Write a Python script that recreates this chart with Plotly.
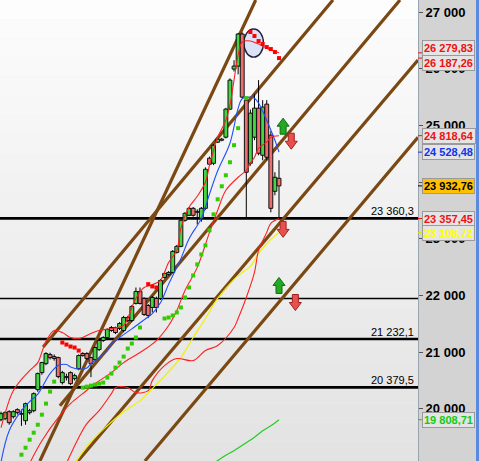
import plotly.graph_objects as go
import numpy as np

# ---------------- data ----------------
idx = list(range(69))
opens = [19809,19827,19950,19862,19986,19915,19791,19933,19968,20339,20639,20798,20957,20922,20904,20463,20569,20639,20533,20710,
         20975,20975,20904,20869,21046,21205,21258,21435,21435,21417,21382,21611,21558,21859,22071,21947,21823,21788,21947,21947,
         22318,22371,22406,22760,22866,23325,23414,23537,23484,23361,23537,24421,24332,24704,24757,24792,25287,25993,26046,26612,
         25446,24332,24792,25304,24474,25375,24827,23838,24067]
highs = [19950,19960,19975,19975,20010,19990,20110,20000,20290,20640,20830,21000,20990,20960,20920,20670,20620,20660,20620,20960,
         21000,21000,20920,21100,21220,21280,21420,21460,21450,21530,21640,21640,21830,22140,22140,21970,21850,21990,21980,22290,
         22420,22430,22800,22890,23340,23470,23560,23560,23520,23560,24260,24450,24670,24790,24780,25310,25830,26150,26630,26640,
         25499,25280,25550,25799,25446,25446,24900,24173,24385]
lows = [19780,19800,19720,19830,19900,19700,19720,19900,19940,20300,20600,20770,20870,20850,20540,20430,20500,20420,20500,20680,
        20920,20860,20560,20840,21020,21180,21240,21360,21320,21390,21350,21530,21530,21840,21840,21640,21600,21700,21700,21920,
        22300,22350,22390,22740,22850,23300,23400,23390,23250,23300,23510,24290,24300,24690,24720,24770,25270,25950,25900,25480,
        23378,24290,24740,24474,24385,24385,23467,23767,23378]
closes = [19915,19933,19756,19950,19933,19905,20092,19968,20268,20622,20816,20975,20904,20887,20569,20639,20551,20445,20586,20940,
          20940,20887,20798,21081,21205,21258,21399,21382,21346,21505,21611,21558,21806,22071,21859,21664,21647,21965,21788,22265,
          22389,22406,22777,22866,23325,23449,23537,23414,23467,23537,24226,24315,24651,24757,24739,25287,25799,26046,26612,25499,
          24173,25216,25304,24509,25322,24438,23537,24085,23932.76]

# parabolic SAR dots
sar_up_x = [5,6,7,8,9,10,11,12,13,
            20,21,22,23,24,25,26,27,28,29,30,31,32,33,34,
            40,41,42,43,44,45,46,47,48,49,50,51,52,53,54,55,56,57,58,60]
sar_up_y = [19191,19314,19456,19579,19720,19897,20092,20304,20480,
            20374,20392,20410,20427,20445,20463,20551,20622,20728,20816,20922,21064,21152,21258,21435,
            21594,21611,21647,21700,21788,21965,22141,22353,22548,22724,22884,23149,23431,23696,23926,24120,
            24350,24651,24951,25481]
sar_dn_x = [15,16,17,18,19, 36,37,38, 61,62,63,64,65,66,67,68]
sar_dn_y = [21170,21134,21099,21081,21028, 22200,22159,22141,
            26647,26577,26488,26435,26382,26347,26294,26187.26]

# indicator lines
blue_x = [0,2,5,7,9,12,14,16,17,19,21,22,24,26,27,29,32,35,37,39,41,44,46,49,51,53,56,58,59,61,62,63,64,66,67,68]
blue_y = [19060,19615,19968,20127,20260,20622,20763,20781,20740,20700,20720,20800,20900,21028,21140,21258,21410,21570,
          21680,21870,22200,22650,23000,23360,23790,24200,24686,25300,25470,25499,25480,25393,25250,24920,24739,24528.48]
redA_x = [0,2,3,5,7,9,10,11,13,15,17,19,22,24,27,30,31,33,35,37,39,41,43,44,46,48,50,51,52,53,55,56,57,58,59,61,63,66,68]
redA_y = [19668,20150,20321,20520,20675,20816,21000,21190,21382,21346,21258,21240,21329,21382,21417,21470,21600,21950,
          22140,22190,22265,22583,22795,23184,23555,23749,23997,24297,24562,24792,25092,25357,25799,26241,26471,26488,
          26435,26329,26279.83]
redB_x = [7,10,14,17,20,23,27,30,34,38,41,43,45,48,51,53,55,58,60,61,62,63,65,66,68]
redB_y = [19040,19438,19844,20092,20268,20445,20639,20816,20993,21205,21470,21735,22088,22495,23113,23502,23855,24085,
          24209,24332,24438,24597,24704,24792,24818.64]
redC_x = [16,19,21,24,27,28,31,33,36,37,40,43,47,50,53,57,58,60,62,63,65,66,68]
redC_y = [19040,19491,19738,19968,20268,20374,20374,20286,20321,20498,20763,20887,20851,21028,21117,21435,21594,21965,
          22406,22795,23113,23272,23357.45]
yellow_x = [18,22,26,30,34,37,41,44,47,50,53,57,59,61,63,66,68]
yellow_y = [19031,19420,19703,19950,20145,20357,20657,20904,21258,21594,21947,22283,22406,22512,22742,22990,23108.72]
green_x = [52,55,57,60,62,64,66,68]
green_y = [19040,19180,19261,19403,19500,19615,19700,19808.71]

# hand-drawn trend lines: (x0, y0, x1, y1)
trend_lines = [
    (9.5, 19080, 62.3, 27212),
    (10.3, 21090, 81.2, 27212),
    (14.4, 20056, 97.6, 27212),
    (18.8, 19080, 102.0, 26155),
    (35.2, 19080, 102.0, 24792),
]
# horizontal levels
levels = [23360.3, 21947, 21232.1, 20379.5]
level_labels = ["23 360,3", "", "21 232,1", "20 379,5"]
level_widths = [2.6, 1.4, 2.6, 2.6]

# signal arrows (x, price, direction)
arrows = [(69, 24986, "up"), (71, 24721, "down"), (69, 23166, "down"), (68, 22177, "up"), (72, 21876, "down")]

# right-axis value tags
tags = [(26279.83, "26 279,83", "#ee1111", "#e4e4e4"),
        (26187.26, "26 187,26", "#ee1111", "#e4e4e4"),
        (24818.64, "24 818,64", "#ee1111", "#e4e4e4"),
        (24528.48, "24 528,48", "#1133ee", "#e4e4e4"),
        (23932.76, "23 932,76", "#000000", "#ffc000"),
        (23357.45, "23 357,45", "#ee1111", "#e4e4e4"),
        (23108.72, "23 108,72", "#ffff00", "#e4e4e4"),
        (19808.71, "19 808,71", "#11cc11", "#e4e4e4")]
tag_shift = [5, -5, 0, 0, 0, 0, 0, 0]

tick_vals = [20000, 21000, 22000, 23000, 24000, 25000, 26000, 27000]
tick_text = ["20 000", "21 000", "22 000", "23 000", "24 000", "25 000", "26 000", "27 000"]

XR = [-0.25, 102.0]
YR = [19080, 27212]

# ---------------- figure ----------------
fig = go.Figure()
shapes = []

# background gradient of the plot area
nb = 24
for k in range(nb):
    g = int(253 - (253 - 227) * k / (nb - 1))
    shapes.append(dict(type="rect", xref="x domain", yref="y domain", x0=0, x1=1,
                       y0=1 - (k + 1) / nb, y1=1 - k / nb, fillcolor=f"rgb({g},{g},{g})",
                       line=dict(width=0), layer="below"))

# peak ellipse
shapes.append(dict(type="circle", xref="x", yref="y", x0=59.4, x1=64.2, y0=26205, y1=26700,
                   fillcolor="rgba(205,218,245,0.75)", line=dict(color="#202040", width=1.4), layer="below"))

# horizontal levels (under the candles)
for lv, w in zip(levels, level_widths):
    shapes.append(dict(type="line", xref="x", yref="y", x0=XR[0], x1=XR[1], y0=lv, y1=lv,
                       line=dict(color="black", width=w), layer="below"))

# trend lines (under the candles)
for (x0, y0, x1, y1) in trend_lines:
    shapes.append(dict(type="line", xref="x", yref="y", x0=x0, x1=x1, y0=y0, y1=y1,
                       line=dict(color="#7a4812", width=3.2), layer="below"))

# candles: bodies (bar layer) + wicks outside the bodies
o = np.array(opens, float); c = np.array(closes, float)
h = np.array(highs, float); l = np.array(lows, float)
base = np.minimum(o, c)
top = np.maximum(o, c)
hgt = np.maximum(top - base, 12)
cols = ["#44d444" if c[i] >= o[i] else "#ec6e6e" for i in idx]
fig.add_trace(go.Bar(x=idx, y=hgt, base=base, width=0.95, marker=dict(color=cols, line=dict(color="#111111", width=1)),
                     showlegend=False, hoverinfo="skip"))
wx, wy = [], []
for i in idx:
    wx += [i, i, None, i, i, None]
    wy += [l[i], base[i], None, base[i] + hgt[i], h[i], None]
fig.add_trace(go.Scatter(x=wx, y=wy, mode="lines", line=dict(color="black", width=1),
                         hoverinfo="skip", showlegend=False))

# yellow / green long averages
fig.add_trace(go.Scatter(x=yellow_x, y=yellow_y, mode="lines", line=dict(color="#f0f000", width=1.2),
                         line_shape="spline", showlegend=False))
fig.add_trace(go.Scatter(x=green_x, y=green_y, mode="lines", line=dict(color="#22cc22", width=1.2),
                         line_shape="spline", showlegend=False))

# indicator lines
for xs, ys, col in [(redC_x, redC_y, "#ff2020"), (redB_x, redB_y, "#ff2020"),
                    (blue_x, blue_y, "#2050ff"), (redA_x, redA_y, "#ff2020")]:
    fig.add_trace(go.Scatter(x=xs, y=ys, mode="lines", line=dict(color=col, width=1.1),
                             line_shape="spline", hoverinfo="skip", showlegend=False))

# SAR
fig.add_trace(go.Scatter(x=sar_up_x, y=sar_up_y, mode="markers",
                         marker=dict(symbol="square", size=4, color="#33cc00"), showlegend=False))
fig.add_trace(go.Scatter(x=sar_dn_x, y=sar_dn_y, mode="markers",
                         marker=dict(symbol="square", size=4, color="#ff0000"), showlegend=False))

# arrows (pixel-sized paths anchored at data points)
up_path = "M -3,-8 L 3,-8 L 3,0 L 6,0 L 0,8 L -6,0 L -3,0 Z"
dn_path = "M -3,8 L 3,8 L 3,0 L 6,0 L 0,-8 L -6,0 L -3,0 Z"
for (ax, ay, d) in arrows:
    shapes.append(dict(type="path", xref="x", yref="y", xsizemode="pixel", ysizemode="pixel",
                       xanchor=ax, yanchor=ay, path=up_path if d == "up" else dn_path,
                       fillcolor="#22aa22" if d == "up" else "#e85050",
                       line=dict(color="#0f6a0f" if d == "up" else "#a02020", width=1), layer="above"))

annotations = []
for lv, txt in zip(levels, level_labels):
    if txt:
        annotations.append(dict(xref="paper", yref="y", x=1, y=lv, xanchor="right", yanchor="bottom",
                                xshift=-2, yshift=-1, text=txt, showarrow=False,
                                font=dict(family="Liberation Sans", size=11, color="black")))

# right axis tags + colored tick marks
for (val, txt, fc, bg), ys in zip(tags, tag_shift):
    annotations.append(dict(xref="paper", yref="y", x=1, y=val, xanchor="left", yanchor="middle",
                            xshift=4, yshift=ys, text=txt, showarrow=False,
                            font=dict(family="Liberation Sans", size=11, color=fc, weight="bold"),
                            bgcolor=bg, bordercolor="#9a9a9a", borderwidth=1, borderpad=1))
    shapes.append(dict(type="line", xref="paper", yref="y", x0=1, x1=1 + 4 / 418, y0=val, y1=val,
                       line=dict(color=fc if fc != "#ffff00" else "#e0e000", width=1), layer="above"))

# blue border stripe on the right
shapes.append(dict(type="rect", xref="paper", yref="paper", x0=476 / 418, x1=480 / 418, y0=-0.01, y1=1.01,
                   fillcolor="#5a8be0", line=dict(width=0), layer="above"))

fig.update_layout(
    width=479, height=461, margin=dict(l=0, r=61, t=0, b=0, autoexpand=False),
    paper_bgcolor="#d3d3d3", plot_bgcolor="#f0f0f0",
    showlegend=False, barmode="overlay", shapes=shapes, annotations=annotations,
    hovermode=False,
    xaxis=dict(range=XR, visible=False, fixedrange=True),
    yaxis=dict(range=YR, side="right", showgrid=False, zeroline=False, tickvals=tick_vals, ticktext=tick_text,
               ticks="outside", ticklen=4, tickcolor="#555555", showline=True, linecolor="#9aa4ae", linewidth=1,
               automargin=False, fixedrange=True,
               tickfont=dict(family="Liberation Sans", size=13, color="black", weight="bold")),
)
fig.write_html("out.html", config={"displayModeBar": False, "staticPlot": True},
               post_script="document.body.style.margin='0';document.body.style.overflow='hidden';")
